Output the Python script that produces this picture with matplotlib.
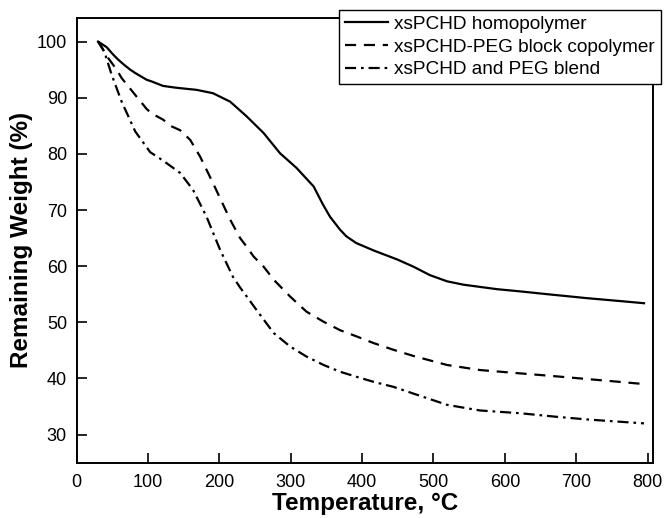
import numpy as np
import matplotlib
matplotlib.use('Agg')
import matplotlib.pyplot as plt

plt.rcParams['font.family'] = ['Liberation Sans', 'DejaVu Sans']

# Данные (температура, °C / остаточная масса, %)
t_homo = [30, 42, 51, 58, 67, 75, 82, 98, 105, 121, 138, 145, 168, 191, 215, 238, 262, 285,
          308, 332, 345, 355, 369, 378, 392, 416, 449, 472, 495, 519, 542, 589, 622, 660, 715, 760, 795]
w_homo = [100, 99.0, 97.7, 96.8, 95.8, 95.0, 94.4, 93.2, 92.9, 92.1, 91.8, 91.7, 91.4, 90.8, 89.3, 86.7, 83.7, 80.1,
          77.5, 74.2, 71.0, 68.8, 66.5, 65.3, 64.1, 62.8, 61.2, 59.9, 58.4, 57.3, 56.7, 55.9, 55.5, 55.0, 54.3, 53.8, 53.4]

t_block = [30, 44, 56, 63, 82, 98, 105, 121, 133, 145, 159, 173, 191, 215, 229, 238, 248, 262,
           276, 299, 322, 346, 369, 392, 416, 444, 472, 519, 565, 622, 670, 715, 760, 795]
w_block = [100, 97.1, 95.0, 93.5, 90.5, 88.0, 87.2, 86.1, 84.9, 84.2, 82.5, 79.5, 74.8, 68.3, 65.0, 63.5, 61.7, 59.9,
           57.6, 54.6, 51.9, 50.1, 48.6, 47.5, 46.3, 45.1, 44.0, 42.4, 41.5, 40.9, 40.4, 39.9, 39.4, 39.0]

t_blend = [30, 37, 40, 49, 63, 82, 103, 121, 145, 163, 182, 201, 219, 229, 240, 252, 276,
           299, 322, 346, 369, 392, 416, 444, 472, 519, 565, 622, 670, 715, 760, 795]
w_blend = [100, 98.6, 97.7, 94.1, 89.3, 84.0, 80.3, 78.8, 76.6, 73.6, 68.8, 62.9, 58.1, 56.2, 54.3, 52.2, 48.1,
           45.7, 43.9, 42.4, 41.2, 40.3, 39.4, 38.5, 37.3, 35.3, 34.3, 33.8, 33.2, 32.7, 32.3, 32.0]

labels = ['xsPCHD homopolymer', 'xsPCHD-PEG block copolymer', 'xsPCHD and PEG blend']

fig = plt.figure(figsize=(6.65, 5.18), dpi=100)
ax = fig.add_axes([0.1153, 0.1068, 0.8671, 0.8585])

kw = dict(color='black', lw=1.6, solid_joinstyle='round', dash_joinstyle='round')
ax.plot(t_homo, w_homo, ls='-', label=labels[0], **kw)
ax.plot(t_block, w_block, ls=(0, (5, 3.5)), label=labels[1], **kw)
ax.plot(t_blend, w_blend, ls=(0, (5, 2.2, 1.2, 2.2)), label=labels[2], **kw)

ax.set_xlim(0, 808)
ax.set_ylim(25, 104.2)
ax.set_xticks(np.arange(0, 801, 100))
ax.set_yticks(np.arange(30, 101, 10))
ax.tick_params(direction='in', length=7, width=1.2, labelsize=13, colors='black')
ax.tick_params(axis='y', pad=7)
ax.tick_params(axis='x', pad=8)
for s in ax.spines.values():
    s.set_linewidth(1.4)

ax.set_xlabel('Temperature, °C', fontsize=17.5, fontweight='bold', labelpad=1)
ax.set_ylabel('Remaining Weight (%)', fontsize=17.5, fontweight='bold', labelpad=3)

leg = fig.legend(loc='upper left', bbox_to_anchor=(0.5098, 0.9807), fontsize=13.7,
                 frameon=True, fancybox=False, framealpha=1, edgecolor='black',
                 handlelength=2.3, handletextpad=0.3, labelspacing=0.28,
                 borderpad=0.3, borderaxespad=0)
leg.get_frame().set_linewidth(1.0)

fig.savefig('out.png', dpi=100)
